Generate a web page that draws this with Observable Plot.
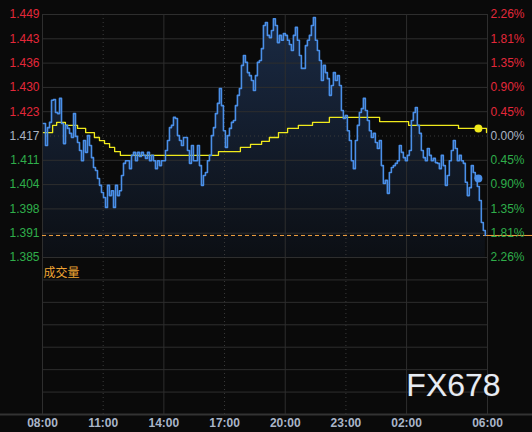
<!DOCTYPE html>
<html><head><meta charset="utf-8">
<script src="https://cdn.jsdelivr.net/npm/d3@7"></script>
<script src="https://cdn.jsdelivr.net/npm/@observablehq/plot@0.6"></script>
<style>
html,body{margin:0;padding:0;background:#0a0a0a;}
#chart{position:relative;width:532px;height:432px;background:#0a0a0a;overflow:hidden;}
#chart svg{position:absolute;left:0;overflow:visible;}
</style></head><body><div id="chart"></div>
<script>
// ---------- data ----------
const timeTickLabels = ["08:00","11:00","14:00","17:00","20:00","23:00","02:00","06:00"];
const timeTickMinutes = [0,180,360,540,720,900,1080,1320];   // minutes after 08:00
const priceTickLabels = ["1.385","1.391","1.398","1.404","1.411","1.417","1.423","1.430","1.436","1.443","1.449"];
const pctTickLabels   = ["2.26%","1.81%","1.35%","0.90%","0.45%","0.00%","0.45%","0.90%","1.35%","1.81%","2.26%"];
const tickSide = [-1,-1,-1,-1,-1,0,1,1,1,1,1];
const priceLow = 1.3850, priceHigh = 1.4490;

const priceStartMin = 3, priceStepMin = 5.93;
const prices = [
1.4203,1.4145,1.4192,1.4206,1.4264,1.4266,1.4232,1.4229,1.4269,1.4203,
1.4150,1.4198,1.4190,1.4177,1.4166,1.4229,1.4169,1.4153,1.4132,1.4105,
1.4158,1.4127,1.4171,1.4145,1.4113,1.4087,1.4079,1.4058,1.4040,1.4021,
1.4008,1.3982,1.4040,1.4013,1.4026,1.3982,1.4040,1.4013,1.4026,1.4066,
1.4098,1.4105,1.4105,1.4084,1.4119,1.4127,1.4105,1.4127,1.4116,1.4127,
1.4119,1.4111,1.4127,1.4105,1.4119,1.4105,1.4084,1.4105,1.4092,1.4105,
1.4105,1.4132,1.4158,1.4192,1.4198,1.4219,1.4216,1.4171,1.4158,1.4145,
1.4166,1.4166,1.4132,1.4098,1.4145,1.4105,1.4105,1.4145,1.4092,1.4040,
1.4066,1.4074,1.4105,1.4119,1.4171,1.4192,1.4229,1.4256,1.4295,1.4250,
1.4184,1.4140,1.4171,1.4190,1.4206,1.4211,1.4250,1.4277,1.4295,1.4356,
1.4382,1.4364,1.4337,1.4329,1.4316,1.4290,1.4329,1.4364,1.4369,1.4400,
1.4461,1.4469,1.4435,1.4429,1.4448,1.4479,1.4461,1.4416,1.4435,1.4422,
1.4440,1.4435,1.4422,1.4411,1.4395,1.4435,1.4456,1.4422,1.4382,1.4348,
1.4348,1.4408,1.4422,1.4435,1.4461,1.4482,1.4422,1.4395,1.4369,1.4316,
1.4356,1.4337,1.4321,1.4277,1.4303,1.4337,1.4316,1.4329,1.4303,1.4237,
1.4216,1.4224,1.4184,1.4158,1.4105,1.4084,1.4158,1.4198,1.4232,1.4242,
1.4269,1.4237,1.4211,1.4184,1.4166,1.4177,1.4153,1.4137,1.4158,1.4092,
1.4045,1.4053,1.4019,1.4074,1.4087,1.4092,1.4098,1.4105,1.4145,1.4127,
1.4113,1.4105,1.4119,1.4132,1.4211,1.4232,1.4245,1.4198,1.4177,1.4132,
1.4113,1.4105,1.4137,1.4119,1.4105,1.4111,1.4100,1.4098,1.4084,1.4119,
1.4092,1.4040,1.4066,1.4105,1.4132,1.4158,1.4137,1.4105,1.4119,1.4105,
1.4098,1.4048,1.4013,1.4034,1.4092,1.4074,1.4058,1.4037,1.4000,1.3942,
1.3921,1.3908
];

const avgMinutes = [3,30,42,68,104,128,154,169,184,199,214,231,522,587,617,650,673,700,727,759,801,851,1000,1086,1234,1317];
const avgPrices  = [1.4179,1.4198,1.4206,1.4198,1.4190,1.4179,1.4166,1.4158,1.4150,1.4140,1.4129,1.4119,1.4129,1.4140,1.4148,1.4156,1.4166,1.4179,1.4190,1.4198,1.4206,1.4219,1.4208,1.4198,1.4190,1.4179];

const lastPrice = 1.3908;
const markerMinute = 1293, markerPrice = 1.4058, markerAvg = 1.4190;
const volumeLabel = "成交量";
const watermark = "FX678";

// ---------- derived tables ----------
const series = prices.map((p, i) => ({m: priceStartMin + i * priceStepMin, p}));
const avgSeries = avgMinutes.map((m, i) => ({m, p: avgPrices[i]}));
const nT = priceTickLabels.length;
const sideColor = s => s > 0 ? "#e3283a" : s < 0 ? "#2fae4a" : "#aab4c4";
const yTicks = priceTickLabels.map((label, i) => ({
  v: priceLow + i * (priceHigh - priceLow) / (nT - 1),
  label, pct: pctTickLabels[i], color: sideColor(tickSide[i]), base: tickSide[i] === 0
}));
const timeTicks = timeTickMinutes.map((m, i) => ({m, label: timeTickLabels[i], dotted: m % 360 === 180}));
const xEnd = timeTickMinutes[timeTickMinutes.length - 1];

const GRID = "#2e2e2e", BLUE = "#4a8fe8", YEL = "#f0ea1c", ORANGE = "#f0a040";
const FONT = "'Liberation Sans', Arial, sans-serif";

const gradDefs = () => {
  const ns = "http://www.w3.org/2000/svg";
  const defs = document.createElementNS(ns, "defs");
  defs.innerHTML = '<linearGradient id="pgrad" x1="0" y1="0" x2="0" y2="1">' +
    '<stop offset="0" stop-color="#1a2a44"/><stop offset="1" stop-color="#0c0f14"/></linearGradient>';
  return defs;
};

const main = Plot.plot({
  width: 532, height: 275,
  marginTop: 14, marginBottom: 18, marginLeft: 42, marginRight: 45,
  x: {domain: [0, xEnd], axis: null},
  y: {domain: [priceLow, priceHigh], axis: null},
  style: {background: "transparent", fontFamily: FONT, fontSize: "12px"},
  marks: [
    gradDefs,
    Plot.areaY(series, {x: "m", y1: priceLow, y2: "p", curve: "step-after", fill: "url(#pgrad)"}),
    Plot.ruleY(yTicks.filter(d => !d.base), {y: "v", stroke: GRID}),
    Plot.ruleY(yTicks.filter(d => d.base), {y: "v", stroke: "#3a3a3a", strokeDasharray: "1,3"}),
    Plot.ruleX(timeTicks.filter(d => !d.dotted), {x: "m", stroke: GRID}),
    Plot.ruleX(timeTicks.filter(d => d.dotted), {x: "m", stroke: "#3a3a3a", strokeDasharray: "1,3"}),
    Plot.ruleY([lastPrice], {stroke: ORANGE, strokeDasharray: "4,3"}),
    Plot.ruleY([lastPrice], {x1: xEnd, x2: xEnd, insetRight: -45, stroke: ORANGE}),
    Plot.line(avgSeries, {x: "m", y: "p", curve: "step-after", stroke: YEL, strokeWidth: 1.3}),
    Plot.line(series, {x: "m", y: "p", curve: "step-after", stroke: BLUE, strokeWidth: 1.6}),
    Plot.dot([{m: markerMinute, p: markerAvg}], {x: "m", y: "p", r: 4, fill: YEL}),
    Plot.dot([{m: markerMinute, p: markerPrice}], {x: "m", y: "p", r: 4, fill: BLUE}),
    Plot.text(yTicks, {y: "v", text: "label", fill: "color", frameAnchor: "left", textAnchor: "end", dx: -3}),
    Plot.text(yTicks, {y: "v", text: "pct", fill: "color", frameAnchor: "right", textAnchor: "start", dx: 3})
  ]
});
main.style.top = "0px";

const vol = Plot.plot({
  width: 532, height: 175,
  marginTop: 0, marginBottom: 18, marginLeft: 42, marginRight: 45,
  x: {domain: [0, xEnd], axis: null},
  y: {domain: [0, 7], axis: null},
  style: {background: "transparent", fontFamily: FONT, fontSize: "12px"},
  marks: [
    Plot.ruleY(d3.range(1, 8), {stroke: GRID}),
    Plot.ruleX(timeTicks.filter(d => !d.dotted), {x: "m", stroke: GRID}),
    Plot.ruleX(timeTicks.filter(d => d.dotted), {x: "m", stroke: "#3a3a3a", strokeDasharray: "1,3"}),
    Plot.ruleY([0], {stroke: "#333", strokeWidth: 2, insetLeft: -42, insetRight: -45}),
    Plot.text(timeTicks, {x: "m", text: "label", frameAnchor: "bottom", dy: 12, fill: "#a9b5c8", fontWeight: "bold"}),
    Plot.text([volumeLabel], {text: d => d, frameAnchor: "top-left", textAnchor: "start", dx: 1, dy: 11,
      fill: "#f0a533", fontFamily: "'Noto Sans CJK SC', sans-serif", fontSize: 12}),
    Plot.text([watermark], {text: d => d, frameAnchor: "bottom-right", textAnchor: "middle", dx: -34, dy: -19,
      fill: "#e6ecf5", fontSize: 32, letterSpacing: "1px", stroke: "#4a3420", strokeWidth: 0.5})
  ]
});
vol.style.top = "257px";

const root = document.getElementById("chart");
root.appendChild(main);
root.appendChild(vol);
</script></body></html>
